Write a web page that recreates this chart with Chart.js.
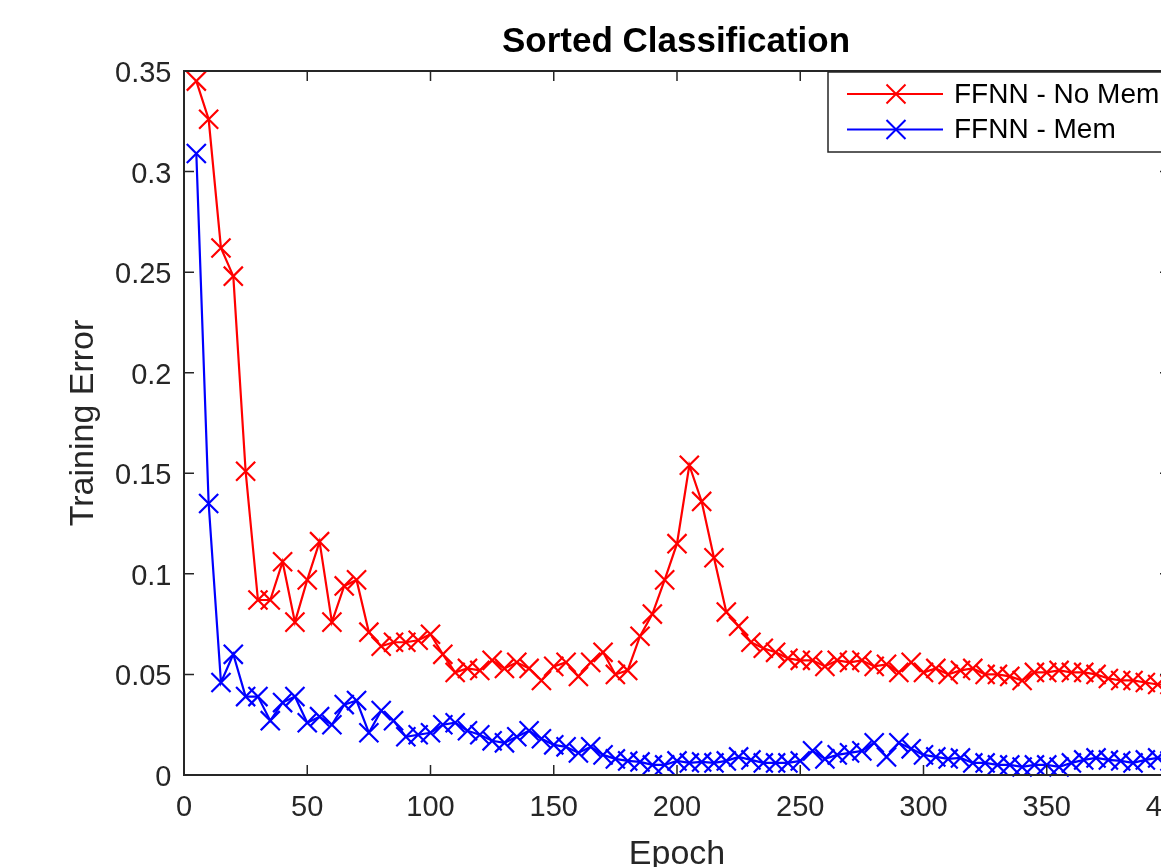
<!DOCTYPE html>
<html><head><meta charset="utf-8">
<script src="https://cdn.jsdelivr.net/npm/chart.js@4.4.1/dist/chart.umd.min.js"></script>
<style>html,body{margin:0;padding:0;background:#fff;overflow:hidden;width:1161px;height:867px}canvas{display:block}</style>
</head><body>
<canvas id="c" width="1260" height="900" style="width:1260px;height:900px"></canvas>
<script>
const chartTitle = 'Sorted Classification';
const xTitle = 'Epoch';
const yTitle = 'Training Error';
const seriesNames = ['FFNN - No Mem', 'FFNN - Mem'];
const epochs = [5,10,15,20,25,30,35,40,45,50,55,60,65,70,75,80,85,90,95,100,
  105,110,115,120,125,130,135,140,145,150,155,160,165,170,175,180,185,190,195,200,
  205,210,215,220,225,230,235,240,245,250,255,260,265,270,275,280,285,290,295,300,
  305,310,315,320,325,330,335,340,345,350,355,360,365,370,375,380,385,390,395,400];
const errNoMem = [0.345,0.326,0.262,0.248,0.151,0.087,0.087,0.106,0.076,0.097,0.116,0.076,0.094,0.097,0.071,0.064,0.066,0.066,0.067,0.070,
  0.060,0.051,0.053,0.052,0.057,0.053,0.056,0.053,0.047,0.054,0.056,0.049,0.056,0.061,0.050,0.052,0.069,0.080,0.097,0.115,
  0.154,0.136,0.108,0.081,0.074,0.066,0.063,0.061,0.058,0.057,0.057,0.054,0.057,0.056,0.057,0.054,0.055,0.051,0.056,0.051,
  0.053,0.050,0.052,0.053,0.050,0.050,0.049,0.047,0.051,0.051,0.052,0.051,0.051,0.050,0.048,0.047,0.047,0.046,0.045,0.045];
const errMem = [0.309,0.135,0.046,0.060,0.039,0.039,0.027,0.036,0.039,0.026,0.029,0.025,0.035,0.037,0.021,0.032,0.027,0.019,0.020,0.021,
  0.025,0.026,0.022,0.020,0.017,0.016,0.019,0.022,0.018,0.015,0.014,0.011,0.014,0.010,0.008,0.007,0.0065,0.005,0.005,0.007,
  0.006,0.0065,0.006,0.007,0.009,0.0075,0.006,0.006,0.006,0.007,0.012,0.008,0.010,0.011,0.012,0.016,0.009,0.016,0.013,0.010,
  0.009,0.008,0.0085,0.006,0.006,0.005,0.005,0.004,0.005,0.005,0.004,0.006,0.0075,0.0085,0.0075,0.007,0.006,0.0075,0.0085,0.007];
const xTicks = [0,50,100,150,200,250,300,350,400];
const xTickLabels = ['0','50','100','150','200','250','300','350','400'];
const yTicks = [0,0.05,0.1,0.15,0.2,0.25,0.3,0.35];
const yTickLabels = ['0','0.05','0.1','0.15','0.2','0.25','0.3','0.35'];

const FONT = "'Liberation Sans', Arial, Helvetica, sans-serif";
const AXIS = '#262626';
const COLORS = ['#ff0000', '#0000ff'];

function drawX(ctx, x, y, h) {
  ctx.beginPath();
  ctx.moveTo(x - h, y - h); ctx.lineTo(x + h, y + h);
  ctx.moveTo(x + h, y - h); ctx.lineTo(x - h, y + h);
  ctx.stroke();
}

const matlabFrame = {
  id: 'matlabFrame',
  afterDatasetsDraw(chart) {
    const {ctx, chartArea: a, scales: {x, y}} = chart;
    ctx.save();
    ctx.strokeStyle = AXIS; ctx.lineWidth = 1.5;
    const tl = 10;
    ctx.beginPath();
    xTicks.forEach(v => {
      const px = x.getPixelForValue(v);
      ctx.moveTo(px, a.bottom); ctx.lineTo(px, a.bottom - tl);
      ctx.moveTo(px, a.top); ctx.lineTo(px, a.top + tl);
    });
    yTicks.forEach(v => {
      const py = y.getPixelForValue(v);
      ctx.moveTo(a.left, py); ctx.lineTo(a.left + tl, py);
      ctx.moveTo(a.right, py); ctx.lineTo(a.right - tl, py);
    });
    ctx.stroke();
    ctx.lineWidth = 2;
    ctx.strokeRect(a.left, a.top, a.right - a.left, a.bottom - a.top);

    const bx = a.right - 342, by = a.top + 1, bw = 339, bh = 80;
    ctx.fillStyle = '#ffffff';
    ctx.fillRect(bx, by, bw, bh);
    ctx.strokeStyle = AXIS; ctx.lineWidth = 1.5;
    ctx.strokeRect(bx, by, bw, bh);
    const rows = [by + 22, by + 57.5];
    chart.data.datasets.forEach((ds, i) => {
      const ry = rows[i];
      ctx.strokeStyle = ds.borderColor; ctx.lineWidth = 2;
      ctx.beginPath(); ctx.moveTo(bx + 19, ry); ctx.lineTo(bx + 115, ry); ctx.stroke();
      drawX(ctx, bx + 68, ry, 9.5);
      ctx.fillStyle = '#000000';
      ctx.font = '28px ' + FONT;
      ctx.textAlign = 'left'; ctx.textBaseline = 'middle';
      ctx.fillText(ds.label, bx + 126, ry + 1);
    });

    ctx.fillStyle = '#000000';
    ctx.font = 'bold 35px ' + FONT;
    ctx.textAlign = 'center'; ctx.textBaseline = 'middle';
    ctx.fillText(chartTitle, (a.left + a.right) / 2 - 1, 42);
    ctx.restore();
  }
};

const mkDs = (label, vals, color) => ({
  label,
  data: epochs.map((e, i) => ({x: e, y: vals[i]})),
  borderColor: color,
  backgroundColor: color,
  borderWidth: 2.2,
  pointStyle: 'crossRot',
  pointRadius: 13.5,
  pointHoverRadius: 13.5,
  pointBorderWidth: 2.2,
  pointBorderColor: color,
  tension: 0,
  fill: false,
  clip: 4
});

new Chart(document.getElementById('c'), {
  type: 'line',
  data: {
    datasets: [
      mkDs(seriesNames[0], errNoMem, COLORS[0]),
      mkDs(seriesNames[1], errMem, COLORS[1])
    ]
  },
  options: {
    responsive: false,
    animation: false,
    devicePixelRatio: 1,
    events: [],
    layout: {padding: {top: 71, right: 90, left: 0, bottom: 0}},
    plugins: {legend: {display: false}, title: {display: false}, tooltip: {enabled: false}},
    scales: {
      x: {
        type: 'linear', min: 0, max: 400,
        grid: {display: false, drawTicks: false},
        border: {display: false},
        afterBuildTicks: s => { s.ticks = xTicks.map(v => ({value: v})); },
        afterFit: s => { s.height = 125; },
        ticks: {
          autoSkip: false, maxRotation: 0, padding: 15.5, color: AXIS,
          font: {family: FONT, size: 29},
          callback: (v, i) => xTickLabels[i]
        },
        title: {display: true, text: xTitle, color: AXIS, font: {family: FONT, size: 34},
          padding: {top: 0, bottom: 25}}
      },
      y: {
        type: 'linear', min: 0, max: 0.35,
        grid: {display: false, drawTicks: false},
        border: {display: false},
        afterBuildTicks: s => { s.ticks = yTicks.map(v => ({value: v})); },
        afterFit: s => { s.width = 184; },
        ticks: {
          autoSkip: false, padding: 12.5, labelOffset: 3, color: AXIS,
          font: {family: FONT, size: 29},
          callback: (v, i) => yTickLabels[i]
        },
        title: {display: true, text: yTitle, color: AXIS, font: {family: FONT, size: 34},
          padding: {top: 63, bottom: 0}}
      }
    }
  },
  plugins: [matlabFrame]
});
</script>
</body></html>
